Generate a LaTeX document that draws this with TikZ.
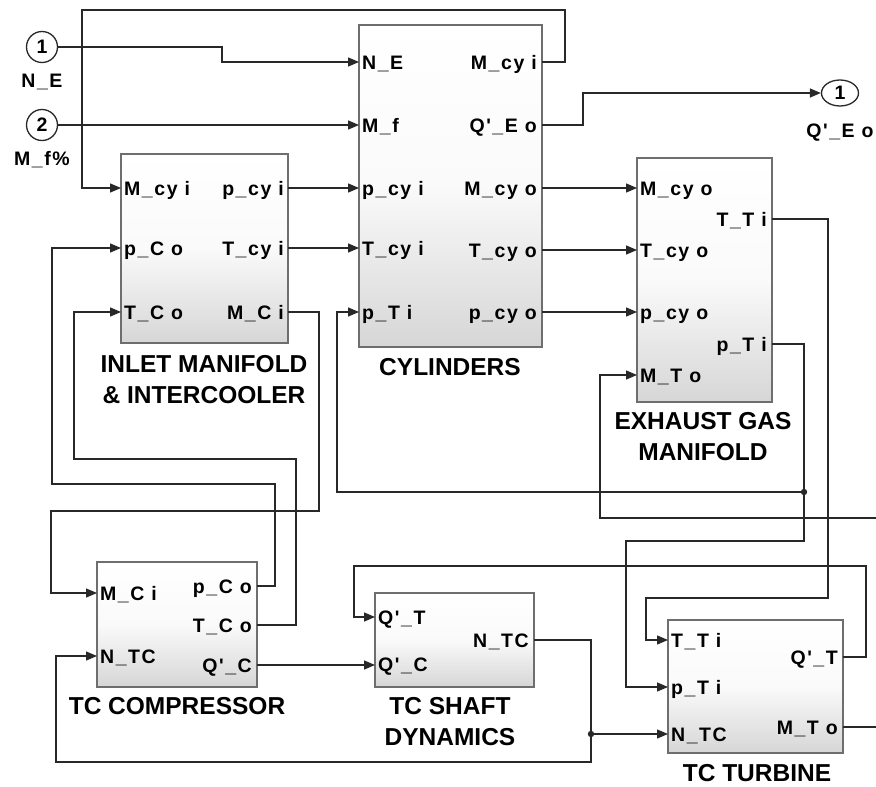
\documentclass[tikz,border=0pt]{standalone}
\usepackage{fontspec}
\newfontfamily\pf[LetterSpace=8]{Liberation Sans}
\newfontfamily\tf{Liberation Sans}
\usetikzlibrary{arrows.meta,shapes.geometric}
\definecolor{wire}{RGB}{40,40,40}
\definecolor{bord}{RGB}{110,110,110}
\begin{document}
\begin{tikzpicture}[x=1pt,y=-1pt,
  block/.style={draw=bord, line width=2pt, top color=white, bottom color=gray!32, middle color=white!96!gray,
    anchor=north west, inner sep=0pt, outer sep=0pt},
  pl/.style={inner sep=0pt, text height=14pt, text depth=0pt, font=\pf\bfseries\fontsize{19.5}{20}\selectfont},
  ttl/.style={align=center, inner sep=0pt, font=\tf\bfseries\fontsize{24.5}{31}\selectfont},
  port/.style={draw=wire, circle, line width=1.3pt, inner sep=0pt, minimum size=31pt, fill=white,
    font=\tf\bfseries\fontsize{19.5}{20}\selectfont},
  conn/.style={draw=wire, line width=1.3pt},
  arr/.style={conn, -{Triangle[length=11pt,width=9pt]}},
  dot/.style={fill=wire}]
\useasboundingbox (0,0) rectangle (876,787);
\fill[white] (0,0) rectangle (876,787);

% blocks
\node[block, minimum width=167pt, minimum height=189pt] (inl) at (121,154) {};
\node[block, minimum width=183pt, minimum height=322pt] (cyl) at (359,25) {};
\node[block, minimum width=135pt, minimum height=244pt] (exh) at (637,158) {};
\node[block, minimum width=160pt, minimum height=125pt] (cmp) at (97,562) {};
\node[block, minimum width=159pt, minimum height=94pt] (sft) at (375,593) {};
\node[block, minimum width=175pt, minimum height=133pt] (tur) at (668,620) {};

% inports / outport
\node[port] (in1) at (42,47) {1};
\node[port] (in2) at (42,125) {2};
\node[draw=wire, ellipse, line width=1.3pt, inner sep=0pt, minimum width=37pt, minimum height=26pt,
  font=\tf\bfseries\fontsize{19.5}{20}\selectfont] (out1) at (840,93) {1};
\node[pl] (in1l) at (42,80) {N\_E};
\node[pl] (in2l) at (42,158) {M\_f\%};
\node[pl] (out1l) at (840,130) {Q'\_E o};

% titles
\node[ttl] (inlt) at (204,380) {INLET MANIFOLD\\\& INTERCOOLER};
\node[ttl] (cylt) at (450,367) {CYLINDERS};
\node[ttl] (exht) at (703,437) {EXHAUST GAS\\MANIFOLD};
\node[ttl] (cmpt) at (177,706) {TC COMPRESSOR};
\node[ttl] (sftt) at (450,722) {TC SHAFT\\DYNAMICS};
\node[ttl] (turt) at (757,773) {TC TURBINE};

% port labels: inlet
\node[pl, anchor=west] (l1) at (124,188) {M\_cy i};
\node[pl, anchor=west] (l2) at (124,248) {p\_C o};
\node[pl, anchor=west] (l3) at (124,312) {T\_C o};
\node[pl, anchor=east] (l4) at (284,188) {p\_cy i};
\node[pl, anchor=east] (l5) at (284,248) {T\_cy i};
\node[pl, anchor=east] (l6) at (284,312) {M\_C i};
% cylinders
\node[pl, anchor=west] (l7) at (362,62) {N\_E};
\node[pl, anchor=west] (l8) at (362,125) {M\_f};
\node[pl, anchor=west] (l9) at (362,188) {p\_cy i};
\node[pl, anchor=west] (l10) at (362,248) {T\_cy i};
\node[pl, anchor=west] (l11) at (362,312) {p\_T i};
\node[pl, anchor=east] (l12) at (537,62) {M\_cy i};
\node[pl, anchor=east] (l13) at (537,125) {Q'\_E o};
\node[pl, anchor=east] (l14) at (537,188) {M\_cy o};
\node[pl, anchor=east] (l15) at (537,250) {T\_cy o};
\node[pl, anchor=east] (l16) at (537,312) {p\_cy o};
% exhaust
\node[pl, anchor=west] (l17) at (640,188) {M\_cy o};
\node[pl, anchor=west] (l18) at (640,250) {T\_cy o};
\node[pl, anchor=west] (l19) at (640,312) {p\_cy o};
\node[pl, anchor=west] (l20) at (640,375) {M\_T o};
\node[pl, anchor=east] (l21) at (767,219) {T\_T i};
\node[pl, anchor=east] (l22) at (767,344) {p\_T i};
% compressor
\node[pl, anchor=west] (l23) at (100,593) {M\_C i};
\node[pl, anchor=west] (l24) at (100,656) {N\_TC};
\node[pl, anchor=east] (l25) at (252,586) {p\_C o};
\node[pl, anchor=east] (l26) at (252,625) {T\_C o};
\node[pl, anchor=east] (l27) at (252,665) {Q'\_C};
% shaft
\node[pl, anchor=west] (l28) at (378,617) {Q'\_T};
\node[pl, anchor=west] (l29) at (378,664) {Q'\_C};
\node[pl, anchor=east] (l30) at (529,640) {N\_TC};
% turbine
\node[pl, anchor=west] (l31) at (671,640) {T\_T i};
\node[pl, anchor=west] (l32) at (671,687) {p\_T i};
\node[pl, anchor=west] (l33) at (671,734) {N\_TC};
\node[pl, anchor=east] (l34) at (838,657) {Q'\_T};
\node[pl, anchor=east] (l35) at (838,727) {M\_T o};

% port coordinates
\coordinate (inl-i1) at (121,188); \coordinate (inl-i2) at (121,248); \coordinate (inl-i3) at (121,312);
\coordinate (inl-o1) at (288,188); \coordinate (inl-o2) at (288,248); \coordinate (inl-o3) at (288,312);
\coordinate (cyl-i1) at (359,62); \coordinate (cyl-i2) at (359,125); \coordinate (cyl-i3) at (359,188);
\coordinate (cyl-i4) at (359,248); \coordinate (cyl-i5) at (359,312);
\coordinate (cyl-o1) at (542,62); \coordinate (cyl-o2) at (542,125); \coordinate (cyl-o3) at (542,188);
\coordinate (cyl-o4) at (542,250); \coordinate (cyl-o5) at (542,312);
\coordinate (exh-i1) at (637,188); \coordinate (exh-i2) at (637,250); \coordinate (exh-i3) at (637,312);
\coordinate (exh-i4) at (637,375);
\coordinate (exh-o1) at (772,219); \coordinate (exh-o2) at (772,344);
\coordinate (cmp-i1) at (97,593); \coordinate (cmp-i2) at (97,656);
\coordinate (cmp-o1) at (257,586); \coordinate (cmp-o2) at (257,625); \coordinate (cmp-o3) at (257,665);
\coordinate (sft-i1) at (375,617); \coordinate (sft-i2) at (375,665);
\coordinate (sft-o1) at (534,640);
\coordinate (tur-i1) at (668,640); \coordinate (tur-i2) at (668,687); \coordinate (tur-i3) at (668,734);
\coordinate (tur-o1) at (843,657); \coordinate (tur-o2) at (843,727);
\coordinate (j1) at (804,492); \coordinate (j2) at (591,734);
\coordinate (edgeA) at (876,518); \coordinate (edgeB) at (876,727);

% connectors
\draw[arr] (in1.east) -- (222,47) -- (222,62) -- (cyl-i1);
\draw[arr] (in2.east) -- (cyl-i2);
\draw[arr] (cyl-o1) -- (565,62) -- (565,10) -- (82,10) -- (82,188) -- (inl-i1);
\draw[arr] (inl-o1) -- (cyl-i3);
\draw[arr] (inl-o2) -- (cyl-i4);
\draw[arr] (inl-o3) -- (319,312) -- (319,511) -- (51,511) -- (51,593) -- (cmp-i1);
\draw[arr] (cmp-o1) -- (275,586) -- (275,484) -- (52,484) -- (52,248) -- (inl-i2);
\draw[arr] (cmp-o2) -- (296,625) -- (296,459) -- (74,459) -- (74,312) -- (inl-i3);
\draw[arr] (cyl-o2) -- (583,125) -- (583,93) -- (out1.west);
\draw[arr] (cyl-o3) -- (exh-i1);
\draw[arr] (cyl-o4) -- (exh-i2);
\draw[arr] (cyl-o5) -- (exh-i3);
\draw[arr] (exh-o1) -- (828,219) -- (828,598) -- (646,598) -- (646,640) -- (tur-i1);
\draw[conn] (exh-o2) -- (804,344) -- (j1);
\draw[arr] (j1) -- (337,492) -- (337,312) -- (cyl-i5);
\draw[arr] (j1) -- (804,541) -- (626,541) -- (626,687) -- (tur-i2);
\draw[arr] (edgeA) -- (600,518) -- (600,375) -- (exh-i4);
\draw[conn] (tur-o2) -- (edgeB);
\draw[arr] (tur-o1) -- (866,657) -- (866,566) -- (354,566) -- (354,617) -- (sft-i1);
\draw[arr] (cmp-o3) -- (sft-i2);
\draw[conn] (sft-o1) -- (591,640) -- (j2);
\draw[arr] (j2) -- (tur-i3);
\draw[arr] (j2) -- (591,762) -- (56,762) -- (56,656) -- (cmp-i2);
\fill[dot] (j1) circle[radius=3.2pt];
\fill[dot] (j2) circle[radius=3.2pt];
\end{tikzpicture}
\end{document}
